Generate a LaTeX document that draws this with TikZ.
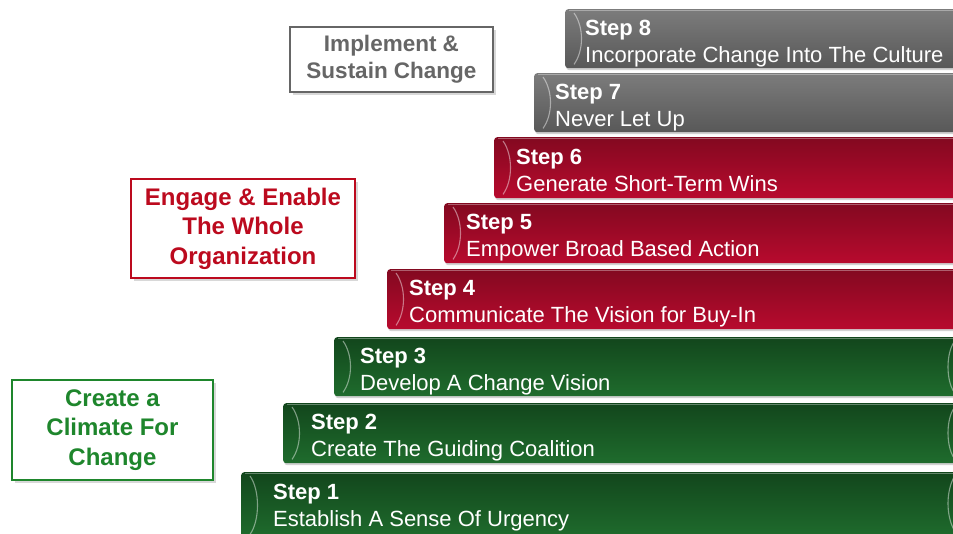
\documentclass[tikz,border=0pt]{standalone}
\usepackage{fontspec}
\setmainfont{Liberation Sans}
\usetikzlibrary{shadows}
\definecolor{grnT}{HTML}{12461C}
\definecolor{grnB}{HTML}{1F6C2D}
\definecolor{redT}{HTML}{830920}
\definecolor{redB}{HTML}{B80A2E}
\definecolor{gryT}{HTML}{7C7C7C}
\definecolor{gryB}{HTML}{585858}
\definecolor{lblG}{HTML}{1E862C}
\definecolor{lblR}{HTML}{BC0A1E}
\definecolor{lblY}{HTML}{666666}
\begin{document}
\begin{tikzpicture}[x=1pt,y=-1pt,
  barbase/.style={rectangle, rounded corners=3pt, anchor=north west, inner sep=0pt, minimum width=460pt,
     drop shadow={opacity=0.35, shadow xshift=1pt, shadow yshift=-2pt}},
  greenbar/.style={barbase, top color=grnT, bottom color=grnB},
  redbar/.style={barbase, top color=redT, bottom color=redB},
  graybar/.style={barbase, top color=gryT, bottom color=gryB},
  steptitle/.style={anchor=base west, inner sep=0pt, text=white, font=\bfseries\fontsize{22}{26}\selectfont},
  stepdesc/.style={anchor=base west, inner sep=0pt, text=white, font=\fontsize{22}{26}\selectfont},
  arcline/.style={draw=white, opacity=0.45, line width=1.1pt},
  topline/.style={draw=white, opacity=0.35, line width=1.2pt},
  lblbox/.style={rectangle, line width=2pt, fill=white, align=center, inner sep=0pt,
     drop shadow={opacity=0.3, shadow xshift=3pt, shadow yshift=-3pt}}
]
\useasboundingbox (0,0) rectangle (953,533);
\clip (0,0) rectangle (953,533);
\fill[white] (0,0) rectangle (953,533);

% bars: left, top, height
\foreach \nm/\lx/\ty/\h/\sty in {b1/241/472/66/greenbar, b2/283/403/60/greenbar, b3/334/337/59/greenbar,
   b4/387/269/60/redbar, b5/444/203/60/redbar, b6/494/137/61/redbar,
   b7/534/73/59/graybar, b8/565/9/59/graybar}{
  \node[\sty, minimum width={975-\lx}, minimum height=\h] (\nm) at (\lx,\ty) {};
  \draw[arcline] ([xshift=9pt,yshift=-4pt]\nm.north west) .. controls ([xshift=19pt,yshift=-18pt]\nm.north west)
     and ([xshift=19pt,yshift=18pt]\nm.south west) .. ([xshift=9pt,yshift=4pt]\nm.south west);
  \draw[topline] ([xshift=4pt,yshift=-1.5pt]\nm.north west) -- ([yshift=-1.5pt]\nm.north east);
}
% right brackets on green bars
\draw[arcline] (954,477) .. controls (946,492) and (946,515) .. (954,530);
\draw[arcline] (954,408) .. controls (946,420) and (946,446) .. (954,458);
\draw[arcline] (954,342) .. controls (946,354) and (946,380) .. (954,392);

% step texts
\node[steptitle] (t1) at (273,499) {Step 1};
\node[stepdesc]  (d1) at (273,526) {Establish A Sense Of Urgency};
\node[steptitle] (t2) at (311,429) {Step 2};
\node[stepdesc]  (d2) at (311,456) {Create The Guiding Coalition};
\node[steptitle] (t3) at (360,363) {Step 3};
\node[stepdesc]  (d3) at (360,390) {Develop A Change Vision};
\node[steptitle] (t4) at (409,295) {Step 4};
\node[stepdesc]  (d4) at (409,322) {Communicate The Vision for Buy-In};
\node[steptitle] (t5) at (466,229) {Step 5};
\node[stepdesc]  (d5) at (466,256) {Empower Broad Based Action};
\node[steptitle] (t6) at (516,164) {Step 6};
\node[stepdesc]  (d6) at (516,191) {Generate Short-Term Wins};
\node[steptitle] (t7) at (555,99) {Step 7};
\node[stepdesc]  (d7) at (555,126) {Never Let Up};
\node[steptitle] (t8) at (585,35) {Step 8};
\node[stepdesc]  (d8) at (585,62) {Incorporate Change Into The Culture};

% phase labels
\node[lblbox, draw=lblY, text=lblY, font=\bfseries\fontsize{22.5}{27}\selectfont,
   minimum width=203pt, minimum height=65pt] (lI) at (391.5,59.5) {Implement \&\\Sustain Change};
\node[lblbox, draw=lblR, text=lblR, font=\bfseries\fontsize{24}{29.5}\selectfont,
   minimum width=224pt, minimum height=99pt] (lE) at (243,228.5) {Engage \& Enable\\The Whole\\Organization};
\node[lblbox, draw=lblG, text=lblG, font=\bfseries\fontsize{24}{29.5}\selectfont,
   minimum width=201pt, minimum height=100pt] (lC) at (112.5,430) {Create a\\Climate For\\Change};
\end{tikzpicture}
\end{document}
